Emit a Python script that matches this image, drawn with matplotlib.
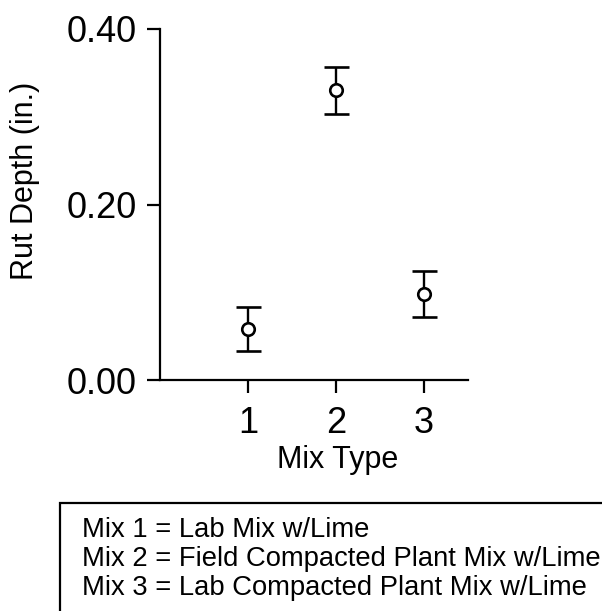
import matplotlib
matplotlib.use("Agg")
import matplotlib.pyplot as plt
from matplotlib.patches import Rectangle

mix_types = [1, 2, 3]
rut_depth = [0.058, 0.330, 0.098]
rut_err = [0.025, 0.027, 0.026]
y_ticks = [0.00, 0.20, 0.40]
y_tick_labels = ["0.00", "0.20", "0.40"]
legend_lines = [
    "Mix 1 = Lab Mix w/Lime",
    "Mix 2 = Field Compacted Plant Mix w/Lime",
    "Mix 3 = Lab Compacted Plant Mix w/Lime",
]

plt.rcParams['font.family'] = ['Liberation Sans', 'DejaVu Sans']

fig = plt.figure(figsize=(6.02, 6.11), dpi=100)
ax = fig.add_axes([160/602, 1-380/611, 308/602, 351/611])

ax.errorbar(mix_types, rut_depth, yerr=rut_err, fmt='o', color='black',
            ecolor='black', elinewidth=1.7, capsize=9, capthick=1.7,
            markersize=9, markerfacecolor='white', markeredgecolor='black',
            markeredgewidth=1.9)

ax.set_xlim(0, 3.5)
ax.set_ylim(0, 0.40)
ax.set_xticks(mix_types)
ax.set_xticklabels([str(m) for m in mix_types])
ax.set_yticks(y_ticks)
ax.set_yticklabels(y_tick_labels)
for s in ['top', 'right']:
    ax.spines[s].set_visible(False)
for s in ['left', 'bottom']:
    ax.spines[s].set_linewidth(1.6)
ax.tick_params(axis='both', direction='out', length=9.5, width=1.6,
               labelsize=26, colors='black')
ax.tick_params(axis='y', pad=7)
ax.tick_params(axis='x', pad=9.5)

fig.text(338/602, 1-468/611, "Mix Type", fontsize=22, ha='center', va='baseline')
fig.text(25/602, 1-181/611, "Rut Depth (in.)", rotation=90, fontsize=22,
         ha='center', va='center')

rect = Rectangle((60/602, -0.1), 1.0, (1-503/611)+0.1, transform=fig.transFigure,
                 fill=False, edgecolor='black', linewidth=1.6, clip_on=False)
fig.add_artist(rect)
baselines = [537, 566, 595]
for line, yy in zip(legend_lines, baselines):
    fig.text(82/602, 1-yy/611, line, fontsize=19.7, ha='left', va='baseline')

fig.savefig("out.png", dpi=100)
